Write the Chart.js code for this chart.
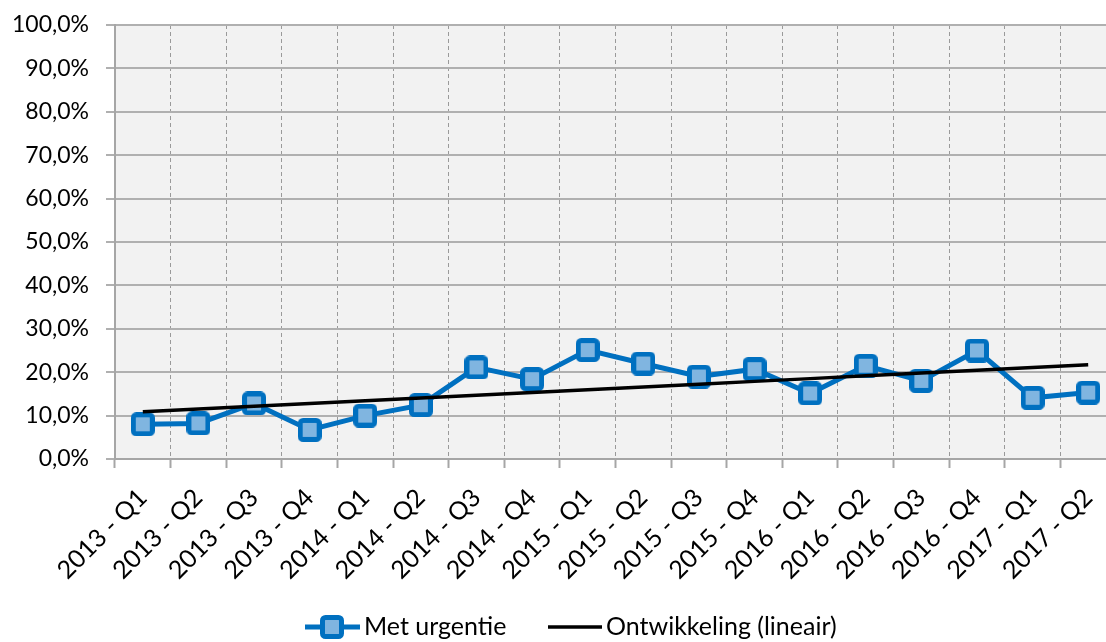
<!DOCTYPE html>
<html>
<head>
<meta charset="utf-8">
<script src="https://cdn.jsdelivr.net/npm/chart.js@4/dist/chart.umd.min.js"></script>
<style>
  html, body { margin: 0; padding: 0; background: #ffffff; overflow: hidden; }
  #wrap { width: 1133px; height: 642px; }
</style>
</head>
<body>
<div id="wrap"><canvas id="chart" width="1133" height="642"></canvas></div>
<script>
// Quarters on the category axis
const quarters = [
  '2013 - Q1', '2013 - Q2', '2013 - Q3', '2013 - Q4',
  '2014 - Q1', '2014 - Q2', '2014 - Q3', '2014 - Q4',
  '2015 - Q1', '2015 - Q2', '2015 - Q3', '2015 - Q4',
  '2016 - Q1', '2016 - Q2', '2016 - Q3', '2016 - Q4',
  '2017 - Q1', '2017 - Q2'
];

// Share with urgency, in percent
const metUrgentie = [8.0, 8.2, 12.8, 6.7, 10.0, 12.4, 21.1, 18.4, 25.1, 22.0, 19.0, 20.7, 15.1, 21.5, 18.0, 25.0, 14.1, 15.3];

// Value axis range
const yMin = 0;
const yMax = 100;
const yStep = 10;

const seriesNames = ['Met urgentie', 'Ontwikkeling (lineair)'];

const BLUE = '#0070C0';
const LIGHT_BLUE = '#80B5E0';
const FONT = 'Lato, "Open Sans", sans-serif';

// Least-squares linear trend over the series
function linearTrend(values) {
  const n = values.length;
  let sx = 0, sy = 0, sxx = 0, sxy = 0;
  values.forEach((v, i) => { sx += i; sy += v; sxx += i * i; sxy += i * v; });
  const slope = (n * sxy - sx * sy) / (n * sxx - sx * sx);
  const intercept = (sy - slope * sx) / n;
  return values.map((_, i) => intercept + slope * i);
}
const trend = linearTrend(metUrgentie);

// Square marker with rounded corners, used for points and legend
function makeMarker() {
  const c = document.createElement('canvas');
  c.width = 24; c.height = 24;
  const g = c.getContext('2d');
  const x = 2.5, y = 2.5, w = 19, h = 19, r = 3;
  g.beginPath();
  g.moveTo(x + r, y);
  g.lineTo(x + w - r, y); g.arcTo(x + w, y, x + w, y + r, r);
  g.lineTo(x + w, y + h - r); g.arcTo(x + w, y + h, x + w - r, y + h, r);
  g.lineTo(x + r, y + h); g.arcTo(x, y + h, x, y + h - r, r);
  g.lineTo(x, y + r); g.arcTo(x, y, x + r, y, r);
  g.closePath();
  g.fillStyle = LIGHT_BLUE;
  g.fill();
  g.lineWidth = 5;
  g.strokeStyle = BLUE;
  g.stroke();
  return c;
}
const marker = makeMarker();

// Grey plot-area background
const plotBackground = {
  id: 'plotBackground',
  beforeDraw(chart) {
    const { ctx, chartArea: a } = chart;
    ctx.save();
    ctx.fillStyle = '#F2F2F2';
    ctx.fillRect(a.left, a.top, a.right - a.left, a.bottom - a.top);
    ctx.restore();
  }
};

// Legend row under the axis labels
const bottomLegend = {
  id: 'bottomLegend',
  afterDraw(chart) {
    const ctx = chart.ctx;
    const y = 627;
    ctx.save();
    ctx.font = '25px ' + FONT;
    ctx.fillStyle = '#000000';
    ctx.textBaseline = 'middle';
    ctx.textAlign = 'left';

    ctx.strokeStyle = BLUE;
    ctx.lineWidth = 5;
    ctx.beginPath(); ctx.moveTo(305, y); ctx.lineTo(360, y); ctx.stroke();
    ctx.drawImage(marker, 332 - 12, y - 12);
    ctx.fillText(seriesNames[0], 364, y);

    ctx.strokeStyle = '#000000';
    ctx.lineWidth = 3.5;
    ctx.beginPath(); ctx.moveTo(548, y); ctx.lineTo(602, y); ctx.stroke();
    ctx.fillText(seriesNames[1], 606, y);
    ctx.restore();
  }
};

new Chart(document.getElementById('chart'), {
  type: 'line',
  data: {
    labels: quarters,
    datasets: [
      {
        label: seriesNames[0],
        data: metUrgentie,
        order: 1,
        borderColor: BLUE,
        borderWidth: 5,
        pointStyle: marker,
        pointRadius: 12,
        pointHoverRadius: 12,
        tension: 0,
        clip: false
      },
      {
        label: seriesNames[1],
        data: trend,
        order: 0,
        borderColor: '#000000',
        borderWidth: 3.5,
        pointRadius: 0,
        pointHoverRadius: 0,
        tension: 0
      }
    ]
  },
  options: {
    responsive: false,
    animation: false,
    events: [],
    layout: { padding: { left: 0, top: 25, right: 0, bottom: 0 } },
    plugins: {
      legend: { display: false },
      tooltip: { enabled: false }
    },
    scales: {
      x: {
        type: 'category',
        offset: true,
        grid: {
          offset: true,
          color: '#9A9A9A',
          lineWidth: 1,
          tickLength: 9,
          tickColor: '#A6A6A6',
          tickWidth: 2
        },
        border: { display: true, color: '#A6A6A6', width: 2, dash: [4, 3] },
        ticks: {
          autoSkip: false,
          minRotation: 45,
          maxRotation: 45,
          padding: 15,
          color: '#000000',
          font: { family: FONT, size: 25 }
        },
        afterFit(scale) {
          scale.height = 183;
          scale.paddingLeft = 0;
          scale.paddingRight = 0;
        }
      },
      y: {
        min: yMin,
        max: yMax,
        grid: {
          color: '#B0B0B0',
          lineWidth: 2,
          tickLength: 9,
          tickColor: '#B0B0B0'
        },
        border: { display: true, color: '#A6A6A6', width: 2 },
        ticks: {
          stepSize: yStep,
          padding: 17,
          color: '#000000',
          font: { family: FONT, size: 23 },
          callback: v => v.toFixed(1).replace('.', ',') + '%'
        },
        afterFit(scale) {
          scale.width = 115;
          scale.paddingTop = 0;
          scale.paddingBottom = 0;
        }
      }
    }
  },
  plugins: [plotBackground, bottomLegend]
});
</script>
</body>
</html>
